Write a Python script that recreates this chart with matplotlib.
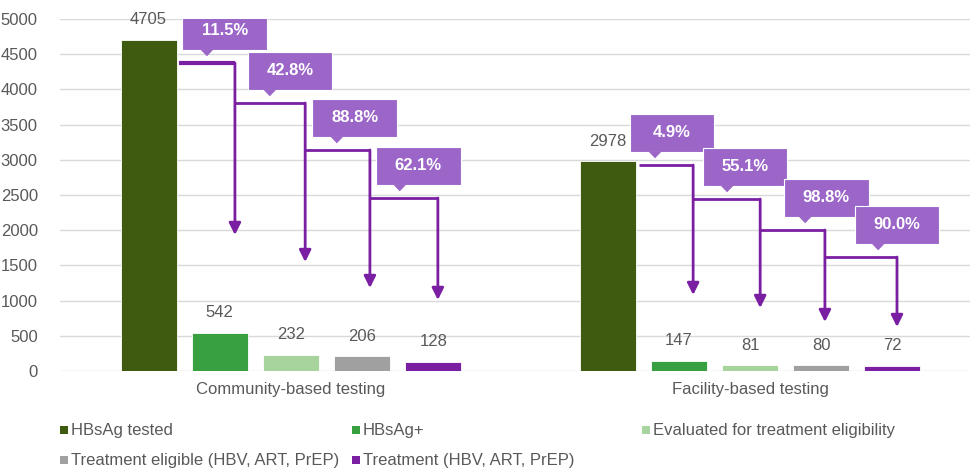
import matplotlib
matplotlib.use("Agg")
import matplotlib.pyplot as plt
from matplotlib.patches import Rectangle, Polygon
import numpy as np

plt.rcParams['font.family'] = ['Liberation Sans', 'DejaVu Sans']

# ---- data ----
groups = ["Community-based testing", "Facility-based testing"]
series = ["HBsAg tested", "HBsAg+", "Evaluated for treatment eligibility",
          "Treatment eligible (HBV, ART, PrEP)", "Treatment (HBV, ART, PrEP)"]
community = [4705, 542, 232, 206, 128]
facility = [2978, 147, 81, 80, 72]
colors = ["#3f5b10", "#38a040", "#a6d49c", "#a0a0a0", "#7a1fa2"]
yticks = [0, 500, 1000, 1500, 2000, 2500, 3000, 3500, 4000, 4500, 5000]

# ---- annotation layout (arrow levels / tips, in data units) ----
arrow_level = [[4375, 3807, 3139, 2457], [2926, 2443, 2003, 1619]]
arrow_tip = [[1932, 1548, 1179, 1009], [1080, 895, 696, 625]]
arrow_dx = [[0.033, 0.031, 0.017, 0.010], [0.031, 0.022, 0.008, 0.010]]
box_dx = [[0.011, -0.002, -0.016, -0.033], [-0.015, -0.011, 0.011, 0.010]]
ptr_dx = [[-0.028, -0.046, -0.055, -0.073], [-0.052, -0.050, -0.035, -0.031]]

TXT = "#595959"
ARROW = "#7a1fa2"
BOX = "#9b66c8"

fig = plt.figure(figsize=(9.72, 4.68), dpi=100)
ax = fig.add_axes([60/972, 97/468, 910/972, 352/468])
ax.set_xlim(-0.503, 1.479)
ax.set_ylim(0, 5000)

width = 0.122
step = 0.155
offsets = (np.arange(5) - 2) * step
data = [community, facility]

for gi, vals in enumerate(data):
    for si, v in enumerate(vals):
        x = gi + offsets[si]
        ax.bar(x, v, width=width, color=colors[si], edgecolor="white", linewidth=0.6, zorder=2)
        ax.annotate(str(v), (x, v), xytext=(0, 9), textcoords="offset points",
                    ha="center", va="bottom", fontsize=12, color=TXT, zorder=3)

# arrows and callouts
bw = 0.185   # box width (data x)
bh = 540     # box height (data y)
for gi, vals in enumerate(data):
    start = gi + offsets[0] + width / 2 + 0.006
    for k in range(4):
        L = arrow_level[gi][k]
        T = arrow_tip[gi][k]
        xa = gi + offsets[k + 1] + arrow_dx[gi][k]
        lw = 3.0 if (gi == 0 and k == 0) else 2.0
        ax.plot([start, xa], [L, L], color=ARROW, lw=lw, solid_capstyle="butt", zorder=4)
        ax.annotate("", xy=(xa, T), xytext=(xa, L),
                    arrowprops=dict(arrowstyle="-|>,head_length=0.7,head_width=0.35",
                                    color=ARROW, lw=2.0, shrinkA=0, shrinkB=0), zorder=4)
        # callout box
        pct = vals[k + 1] / vals[k] * 100
        bx = gi + offsets[k + 1] + box_dx[gi][k]
        by = L + 455
        ax.add_patch(Rectangle((bx - bw / 2, by - bh / 2), bw, bh, facecolor=BOX,
                               edgecolor="white", linewidth=0.8, zorder=5))
        px = gi + offsets[k + 1] + ptr_dx[gi][k]
        ax.add_patch(Polygon([[px - 0.014, by - bh / 2 + 5], [px + 0.014, by - bh / 2 + 5],
                              [px, by - bh / 2 - 90]], closed=True, facecolor=BOX,
                             edgecolor="none", zorder=5))
        ax.text(bx, by, f"{pct:.1f}%", ha="center", va="center", fontsize=12,
                color="white", fontweight="bold", zorder=6)
        start = xa

ax.set_yticks(yticks)
ax.set_xticks([0, 1])
ax.set_xticklabels(groups, fontsize=12, color=TXT)
ax.tick_params(axis="y", labelsize=12, labelcolor=TXT, length=0, pad=16)
ax.tick_params(axis="x", length=0, pad=8)
ax.grid(axis="y", color="#d9d9d9", linewidth=1.0, zorder=0)
ax.set_axisbelow(True)
for s in ax.spines.values():
    s.set_visible(False)

# legend (manual, Excel-like layout)
leg_pos = [(60, 430), (352, 430), (642, 430), (60, 460), (352, 460)]
for (lx, ly), name, c in zip(leg_pos, series, colors):
    fig.patches.append(Rectangle((lx / 972, (468 - ly - 4) / 468), 8 / 972, 8 / 468,
                                 transform=fig.transFigure, facecolor=c, edgecolor="none"))
    fig.text((lx + 11) / 972, (468 - ly) / 468, name, fontsize=12, color=TXT,
             ha="left", va="center")

fig.savefig("out.png", dpi=100)
